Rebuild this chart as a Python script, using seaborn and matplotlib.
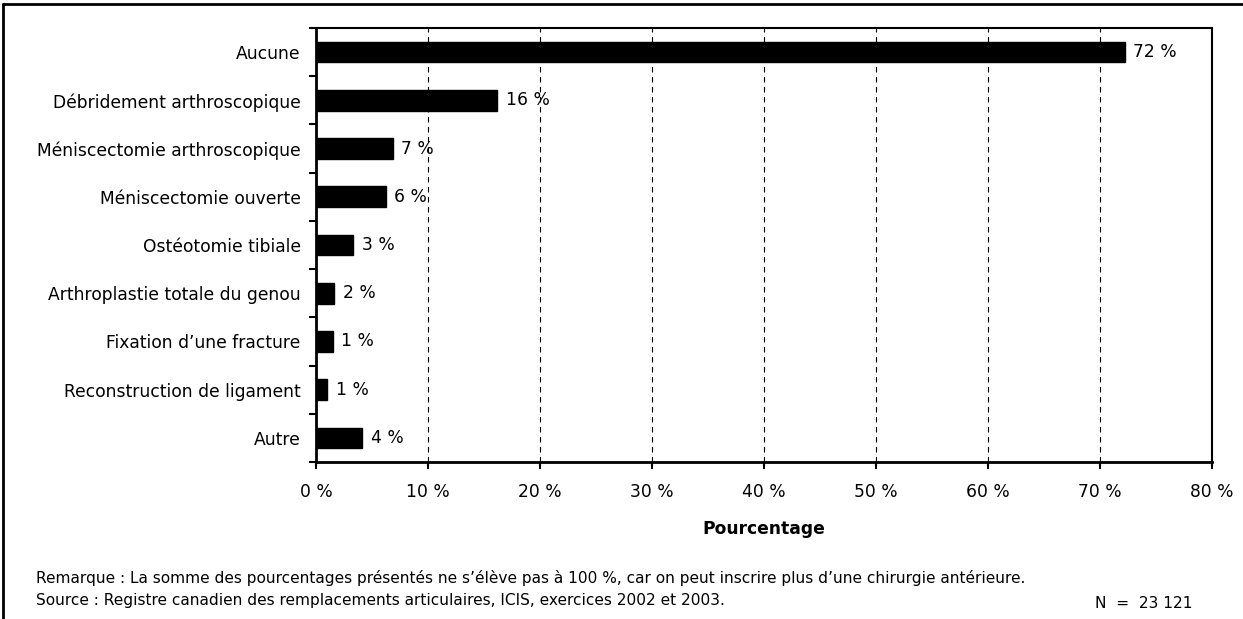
import matplotlib
matplotlib.use("Agg")
import matplotlib.pyplot as plt
from matplotlib.lines import Line2D
from matplotlib.ticker import FixedLocator
import seaborn as sns
import pandas as pd

categories = [
    "Aucune",
    "Débridement arthroscopique",
    "Méniscectomie arthroscopique",
    "Méniscectomie ouverte",
    "Ostéotomie tibiale",
    "Arthroplastie totale du genou",
    "Fixation d\u2019une fracture",
    "Reconstruction de ligament",
    "Autre",
]
percentages = [72.2, 16.2, 6.85, 6.25, 3.33, 1.64, 1.49, 1.0, 4.14]
x_ticks = [0, 10, 20, 30, 40, 50, 60, 70, 80]

note_text = ("Remarque : La somme des pourcentages présentés ne s\u2019élève pas à 100 %, "
             "car on peut inscrire plus d\u2019une chirurgie antérieure.")
source_text = ("Source : Registre canadien des remplacements articulaires, ICIS, "
               "exercices 2002 et 2003.")
n_text = "N  =  23 121"

sns.set_theme(style="white")
plt.rcParams["font.family"] = ["DejaVu Sans"]

FS = 12.3
NOTE_FS = 11.1

df = pd.DataFrame({"categorie": categories, "pct": percentages})

fig = plt.figure(figsize=(12.43, 6.19), dpi=100)
ax = fig.add_axes([0.2542, 0.2536, 0.7209, 0.7012])

sns.barplot(data=df, x="pct", y="categorie", orient="h", color="black",
            width=0.43, saturation=1, ax=ax, zorder=3)
for p in ax.patches:
    p.set_edgecolor("black")

ax.set_xlim(0, 80)
ax.set_ylim(len(categories) - 0.5, -0.5)

ax.xaxis.set_major_locator(FixedLocator(x_ticks))
ax.set_xticklabels([f"{t} %" for t in x_ticks], fontsize=FS)
ax.tick_params(axis="x", which="major", direction="out", length=5, width=1.5,
               color="black", pad=10, bottom=True, labelcolor="black")

# Category labels without ticks; tick marks sit between the categories
ax.tick_params(axis="y", which="major", length=0, pad=11, labelsize=FS,
               labelcolor="black")
ax.yaxis.set_minor_locator(FixedLocator([i - 0.5 for i in range(len(categories) + 1)]))
ax.tick_params(axis="y", which="minor", direction="out", length=5, width=1.5,
               color="black", left=True)

ax.set_ylabel("")
ax.set_xlabel("Pourcentage", fontsize=FS, fontweight="bold", labelpad=14,
              color="black")

# Dashed vertical grid
for t in x_ticks[1:-1]:
    ax.axvline(t, color="black", linestyle=(0, (5, 4)), linewidth=0.8, zorder=1)

for side, lw in [("left", 2.0), ("bottom", 2.0), ("top", 1.5), ("right", 1.5)]:
    ax.spines[side].set_visible(True)
    ax.spines[side].set_color("black")
    ax.spines[side].set_linewidth(lw)

# Value labels
for p, v in zip(ax.patches, percentages):
    ax.annotate(f"{round(v)} %", (p.get_width(), p.get_y() + p.get_height() / 2),
                xytext=(6, 0), textcoords="offset points", va="center", ha="left",
                fontsize=FS, color="black")

fig.text(36 / 1243, 1 - 578 / 619, note_text, fontsize=NOTE_FS, va="center",
         ha="left", color="black")
fig.text(36 / 1243, 1 - 601 / 619, source_text, fontsize=NOTE_FS, va="center",
         ha="left", color="black")
fig.text(1095 / 1243, 1 - 603 / 619, n_text, fontsize=NOTE_FS, va="center",
         ha="left", color="black")

# Frame lines along the top and left edges
fig.add_artist(Line2D([0.0025, 1.0], [1 - 4 / 619, 1 - 4 / 619], color="black",
                      linewidth=2, transform=fig.transFigure))
fig.add_artist(Line2D([0.0025, 0.0025], [0, 1 - 4 / 619], color="black",
                      linewidth=2, transform=fig.transFigure))

fig.savefig("out.png", dpi=100, facecolor="white")
